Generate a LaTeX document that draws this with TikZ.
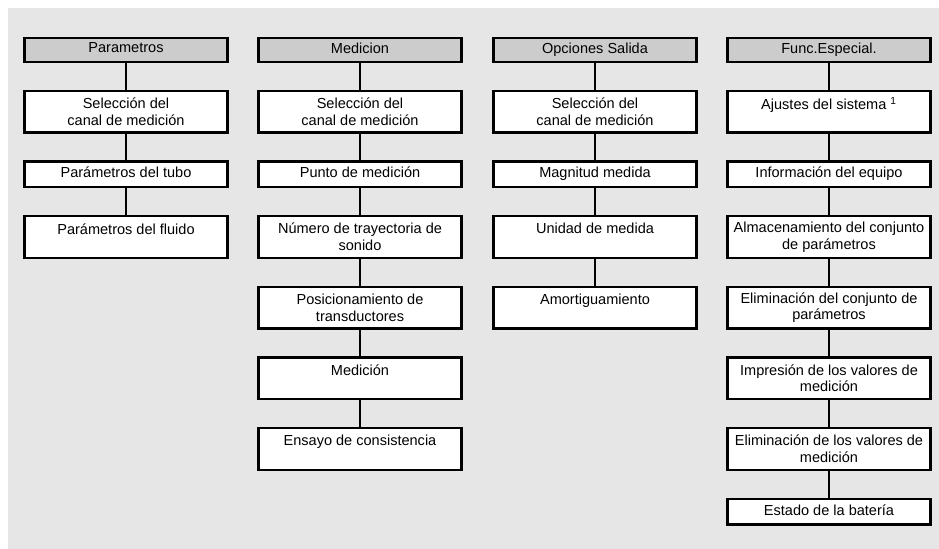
\documentclass[tikz,border=0pt]{standalone}
\usepackage{fontspec}
\setmainfont{Liberation Sans}
\usetikzlibrary{positioning}
\definecolor{panel}{HTML}{E6E6E6}
\definecolor{hdrgray}{HTML}{CCCCCC}
\newcommand{\boxstrut}{\rule[-3pt]{0pt}{10.3pt}}
\tikzset{lnk/.style={line width=1.8pt},
  hdr/.style={draw, line width=1.8pt, fill=hdrgray, minimum width=152.5pt, minimum height=17.7pt, inner sep=1pt, align=center, execute at begin node=\boxstrut},
  tallbox/.style={draw, line width=1.8pt, fill=white, minimum width=152.5pt, minimum height=31.2pt, inner sep=1pt, align=center},
  shortbox/.style={tallbox, minimum height=19.2pt, execute at begin node=\boxstrut}}

\begin{document}
\begin{tikzpicture}[x=0.75pt, y=0.75pt, font=\fontsize{10.9}{12.5}\selectfont, node distance=20pt]
  \fill[panel] (8,-8) rectangle (939,-549);
  \useasboundingbox (0,0) rectangle (939,-549);
  % Parametros
  \node[hdr] (par) at (126,-50) {Parametros};
  \node[tallbox, below=of par]   (par1) {Selección del\\canal de medición};
  \node[shortbox, below=of par1] (par2) {Parámetros del tubo};
  \node[tallbox, below=of par2]  (par3) {Parámetros del fluido\\~};
  \draw[lnk] (par.south) -- (par1.north);
  \draw[lnk] (par1.south) -- (par2.north);
  \draw[lnk] (par2.south) -- (par3.north);
  % Medicion
  \node[hdr] (med) at (360,-50) {Medicion};
  \node[tallbox, below=of med]   (med1) {Selección del\\canal de medición};
  \node[shortbox, below=of med1] (med2) {Punto de medición};
  \node[tallbox, below=of med2]  (med3) {Número de trayectoria de\\sonido};
  \node[tallbox, below=of med3]  (med4) {Posicionamiento de\\transductores};
  \node[tallbox, below=of med4]  (med5) {Medición\\~};
  \node[tallbox, below=of med5]  (med6) {Ensayo de consistencia\\~};
  \draw[lnk] (med.south) -- (med1.north);
  \draw[lnk] (med1.south) -- (med2.north);
  \draw[lnk] (med2.south) -- (med3.north);
  \draw[lnk] (med3.south) -- (med4.north);
  \draw[lnk] (med4.south) -- (med5.north);
  \draw[lnk] (med5.south) -- (med6.north);
  % Opciones Salida
  \node[hdr] (sal) at (595,-50) {Opciones Salida};
  \node[tallbox, below=of sal]   (sal1) {Selección del\\canal de medición};
  \node[shortbox, below=of sal1] (sal2) {Magnitud medida};
  \node[tallbox, below=of sal2]  (sal3) {Unidad de medida\\~};
  \node[tallbox, below=of sal3]  (sal4) {Amortiguamiento\\~};
  \draw[lnk] (sal.south) -- (sal1.north);
  \draw[lnk] (sal1.south) -- (sal2.north);
  \draw[lnk] (sal2.south) -- (sal3.north);
  \draw[lnk] (sal3.south) -- (sal4.north);
  % Func.Especial.
  \node[hdr] (esp) at (829,-50) {Func.Especial.};
  \node[tallbox, below=of esp]   (esp1) {Ajustes del sistema \textsuperscript{1}\\~};
  \node[shortbox, below=of esp1] (esp2) {Información del equipo};
  \node[tallbox, below=of esp2]  (esp3) {Almacenamiento del conjunto\\de parámetros};
  \node[tallbox, below=of esp3]  (esp4) {Eliminación del conjunto de\\parámetros};
  \node[tallbox, below=of esp4]  (esp5) {Impresión de los valores de\\medición};
  \node[tallbox, below=of esp5]  (esp6) {Eliminación de los valores de\\medición};
  \node[shortbox, below=of esp6] (esp7) {Estado de la batería};
  \draw[lnk] (esp.south) -- (esp1.north);
  \draw[lnk] (esp1.south) -- (esp2.north);
  \draw[lnk] (esp2.south) -- (esp3.north);
  \draw[lnk] (esp3.south) -- (esp4.north);
  \draw[lnk] (esp4.south) -- (esp5.north);
  \draw[lnk] (esp5.south) -- (esp6.north);
  \draw[lnk] (esp6.south) -- (esp7.north);
\end{tikzpicture}
\end{document}
